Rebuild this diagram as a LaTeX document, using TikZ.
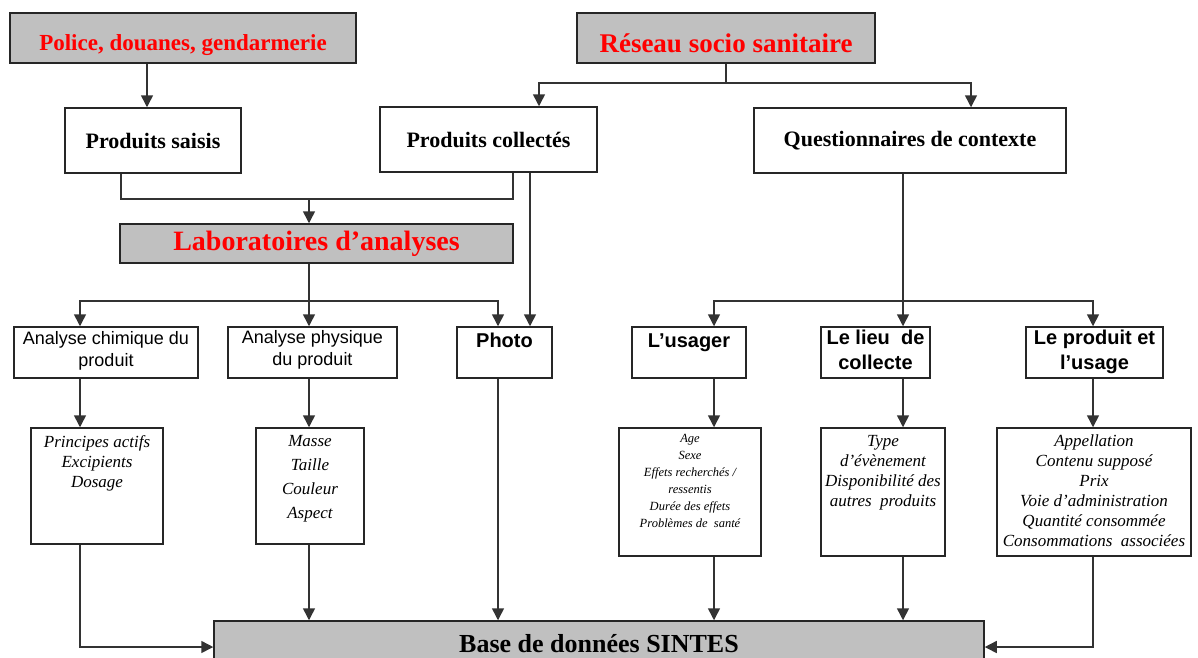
\documentclass[tikz,border=0pt]{standalone}
\usepackage{fontspec}
\setmainfont{Liberation Serif}
\setsansfont{Liberation Sans}
\usetikzlibrary{arrows.meta,calc}
\definecolor{boxgray}{HTML}{C0C0C0}
\definecolor{titlered}{HTML}{FF0000}
\definecolor{linegray}{HTML}{333333}
\begin{document}
\begin{tikzpicture}[x=1pt,y=-1pt,
  wh/.style n args={2}{minimum width=#1,minimum height=#2},
  box/.style={draw=black!85,line width=1.5pt,inner sep=0pt,fill=white},
  graybox/.style={box,fill=boxgray},
  conn/.style={draw=linegray,line width=1.5pt},
  arr/.style={conn,-{Triangle[width=12pt,length=12pt]}},
  redtitle/.style={text=titlered,font=\bfseries\fontsize{#1}{#1}\selectfont},
  blktitle/.style={font=\bfseries\fontsize{#1}{#1}\selectfont},
  sanstext/.style={align=center,inner sep=0pt,font=\sffamily\fontsize{18}{22}\selectfont},
  sansbold/.style={align=center,inner sep=0pt,font=\sffamily\bfseries\fontsize{20}{25}\selectfont},
  itlist/.style={align=center,inner sep=0pt,font=\itshape\fontsize{17}{#1}\selectfont},
]
\clip (0,0) rectangle (1198,657);
\fill[white] (0,0) rectangle (1198,657);

% top row
\node[graybox,wh={346}{50},redtitle=23,text height=30pt,text depth=5pt] (police) at (183,38) {Police, douanes, gendarmerie};
\node[graybox,wh={298}{50},redtitle=27,text height=34pt,text depth=6pt] (reseau) at (726,38) {Réseau socio sanitaire};

% second row
\node[box,wh={176}{65},blktitle=22] (saisis) at (153,140.5) {Produits saisis};
\node[box,wh={217}{65},blktitle=22] (collectes) at (488.5,139.5) {Produits collectés};
\node[box,wh={312}{65},blktitle=22] (quest) at (910,140.5) {Questionnaires de contexte};

% labo
\node[graybox,wh={393}{39},redtitle=28] (labo) at (316.5,243.5) {Laboratoires d’analyses};

% third row
\node[box,wh={184}{51}] (chim) at (106,352.5) {};
\node[box,wh={169}{51}] (phys) at (312.5,352.5) {};
\node[box,wh={95}{51}] (photo) at (504.5,352.5) {};
\node[box,wh={114}{51}] (usager) at (689,352.5) {};
\node[box,wh={109}{51}] (lieu) at (875.5,352.5) {};
\node[box,wh={137}{51}] (produit) at (1094.5,352.5) {};
\node[sanstext,anchor=north] (chimT) at ([yshift=-5]chim.north) {Analyse chimique du\\produit};
\node[sanstext,anchor=north] (physT) at ([yshift=-4]phys.north) {Analyse physique\\du produit};
\node[sansbold,anchor=north] (photoT) at ([yshift=-7]photo.north) {Photo};
\node[sansbold,anchor=north] (usagerT) at ([yshift=-7]usager.north) {L’usager};
\node[sansbold,anchor=north] (lieuT) at ([yshift=-4]lieu.north) {Le lieu\ \ de\\collecte};
\node[sansbold,anchor=north] (produitT) at ([yshift=-4]produit.north) {Le produit et\\l’usage};

% fourth row
\node[box,wh={132}{116}] (princ) at (97,486) {};
\node[box,wh={108}{116}] (masse) at (310,486) {};
\node[box,wh={142}{128}] (usd) at (690,492) {};
\node[box,wh={124}{128}] (type) at (883,492) {};
\node[box,wh={194}{128}] (app) at (1094,492) {};
\node[itlist=20,anchor=north] (princT) at ([yshift=-8]princ.north) {Principes actifs\\Excipients\\Dosage};
\node[itlist=24,anchor=north] (masseT) at ([yshift=-8]masse.north) {Masse\\Taille\\Couleur\\Aspect};
\node[align=center,inner sep=0pt,font=\itshape\fontsize{12.5}{17}\selectfont,anchor=north] (usdT) at ([yshift=-7]usd.north) {Age\\Sexe\\Effets recherchés /\\ressentis\\Durée des effets\\Problèmes de\ \ santé};
\node[itlist=20,anchor=north] (typeT) at ([yshift=-8]type.north) {Type\\d’évènement\\Disponibilité des\\autres\ \ produits};
\node[itlist=20,anchor=north] (appT) at ([yshift=-7]app.north) {Appellation\\Contenu supposé\\Prix\\Voie d’administration\\Quantité consommée\\Consommations\ \ associées};

% base
\node[graybox,wh={770}{46},blktitle=26] (base) at (599,644) {Base de données SINTES};

% column coordinates
\coordinate (xS) at (147,0);
\coordinate (xT) at (121,0);
\coordinate (xQ) at (513,0);
\coordinate (xN) at (539,0);
\coordinate (xW) at (971,0);
\coordinate (xP) at (530,0);
\coordinate (xA) at (80,0);
\coordinate (xB) at (309,0);
\coordinate (xC) at (498,0);
\coordinate (xU) at (714,0);
\coordinate (xL) at (903,0);
\coordinate (xR) at (1093,0);
\coordinate (jTop) at (726,83);
\coordinate (jL) at (309,199);
\coordinate (jM) at (309,301);
\coordinate (jR) at (903,301);
\coordinate (bL) at (80,647);
\coordinate (bR) at (1093,647);

% connectors top
\draw[arr] (police.south -| xS) -- (saisis.north -| xS);
\draw[conn] (reseau.south) -- (jTop);
\draw[arr] (jTop) -| (collectes.north -| xN);
\draw[arr] (jTop) -| (quest.north -| xW);
\draw[conn] (saisis.south -| xT) |- (jL) -| (collectes.south -| xQ);
\draw[arr] (jL) -- (labo.north -| jL);
\draw[arr] (collectes.south -| xP) -- (photo.north -| xP);

% labo branches
\draw[arr] (labo.south -| jM) -- (phys.north -| jM);
\draw[arr] (jM) -| (chim.north -| xA);
\draw[arr] (jM) -| (photo.north -| xC);

% questionnaire branches
\draw[arr] (quest.south -| jR) -- (lieu.north -| jR);
\draw[arr] (jR) -| (usager.north -| xU);
\draw[arr] (jR) -| (produit.north -| xR);

% third to fourth row
\draw[arr] (chim.south -| xA) -- (princ.north -| xA);
\draw[arr] (phys.south -| xB) -- (masse.north -| xB);
\draw[arr] (usager.south -| xU) -- (usd.north -| xU);
\draw[arr] (lieu.south -| xL) -- (type.north -| xL);
\draw[arr] (produit.south -| xR) -- (app.north -| xR);

% to base
\draw[arr] (princ.south -| xA) -- (bL) -- (bL -| base.west);
\draw[arr] (masse.south -| xB) -- (base.north -| xB);
\draw[arr] (photo.south -| xC) -- (base.north -| xC);
\draw[arr] (usd.south -| xU) -- (base.north -| xU);
\draw[arr] (type.south -| xL) -- (base.north -| xL);
\draw[arr] (app.south -| xR) -- (bR) -- (bR -| base.east);
\end{tikzpicture}
\end{document}
